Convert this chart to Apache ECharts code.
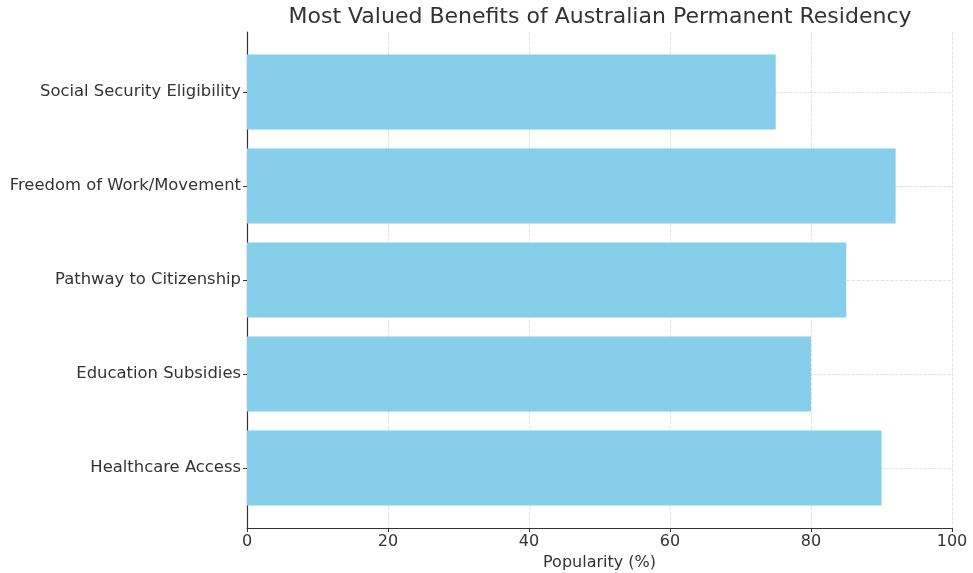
<!DOCTYPE html>
<html>
<head>
<meta charset="utf-8">
<script src="https://cdn.jsdelivr.net/npm/echarts@6/dist/echarts.min.js"></script>
<style>html,body{margin:0;padding:0;background:#fff}#c{width:973px;height:573px}</style>
</head>
<body>
<div id="c"></div>
<script>
const categories = ["Healthcare Access", "Education Subsidies", "Pathway to Citizenship", "Freedom of Work/Movement", "Social Security Eligibility"];
const popularity = [90, 80, 85, 92, 75];
const xTicks = [0, 20, 40, 60, 80, 100];
const titleText = "Most Valued Benefits of Australian Permanent Residency";
const xName = "Popularity (%)";

const font = "DejaVu Sans";
const chart = echarts.init(document.getElementById('c'), null, {renderer: 'canvas'});
chart.setOption({
  animation: false,
  backgroundColor: '#fff',
  textStyle: {fontFamily: font},
  title: {
    text: titleText, left: 595, textAlign: 'center', top: 1,
    textStyle: {fontFamily: font, fontSize: 22, fontWeight: 'normal', color: '#333'}
  },
  grid: [
    {left: 247, right: 21, top: 32, bottom: 45, outerBoundsMode: 'none', containLabel: false},
    {left: 247, right: 21, top: 45, bottom: 58, outerBoundsMode: 'none', containLabel: false}
  ],
  xAxis: [
    {
      gridIndex: 0, type: 'value', min: xTicks[0], max: xTicks[xTicks.length - 1], interval: 20,
      name: xName, nameLocation: 'middle', nameGap: 27,
      nameTextStyle: {fontFamily: font, fontSize: 16, color: '#333'},
      axisLine: {show: true, lineStyle: {color: '#333', width: 1.2}},
      axisTick: {show: true, length: 4, lineStyle: {color: '#333'}},
      axisLabel: {fontFamily: font, fontSize: 16, color: '#333', margin: 6},
      splitLine: {show: true, lineStyle: {type: 'dashed', color: '#d9d9d9', width: 0.8}}
    },
    {
      gridIndex: 1, type: 'value', min: xTicks[0], max: xTicks[xTicks.length - 1],
      show: false
    }
  ],
  yAxis: [
    {
      gridIndex: 0, type: 'value', min: 0, max: 1,
      axisLine: {show: true, lineStyle: {color: '#333', width: 1.2}},
      axisTick: {show: false}, axisLabel: {show: false}, splitLine: {show: false}
    },
    {
      gridIndex: 1, type: 'category', data: categories,
      axisLine: {show: false},
      axisTick: {show: true, alignWithLabel: true, length: 4, lineStyle: {color: '#333'}},
      axisLabel: {fontFamily: font, fontSize: 16.4, color: '#333', margin: 6},
      splitLine: {show: true, alignWithLabel: true, lineStyle: {type: 'dashed', color: '#d9d9d9', width: 0.8}}
    }
  ],
  series: [{
    type: 'bar', xAxisIndex: 1, yAxisIndex: 1,
    data: popularity, barWidth: '80%',
    itemStyle: {color: '#87CEEB'}
  }]
});
</script>
</body>
</html>
